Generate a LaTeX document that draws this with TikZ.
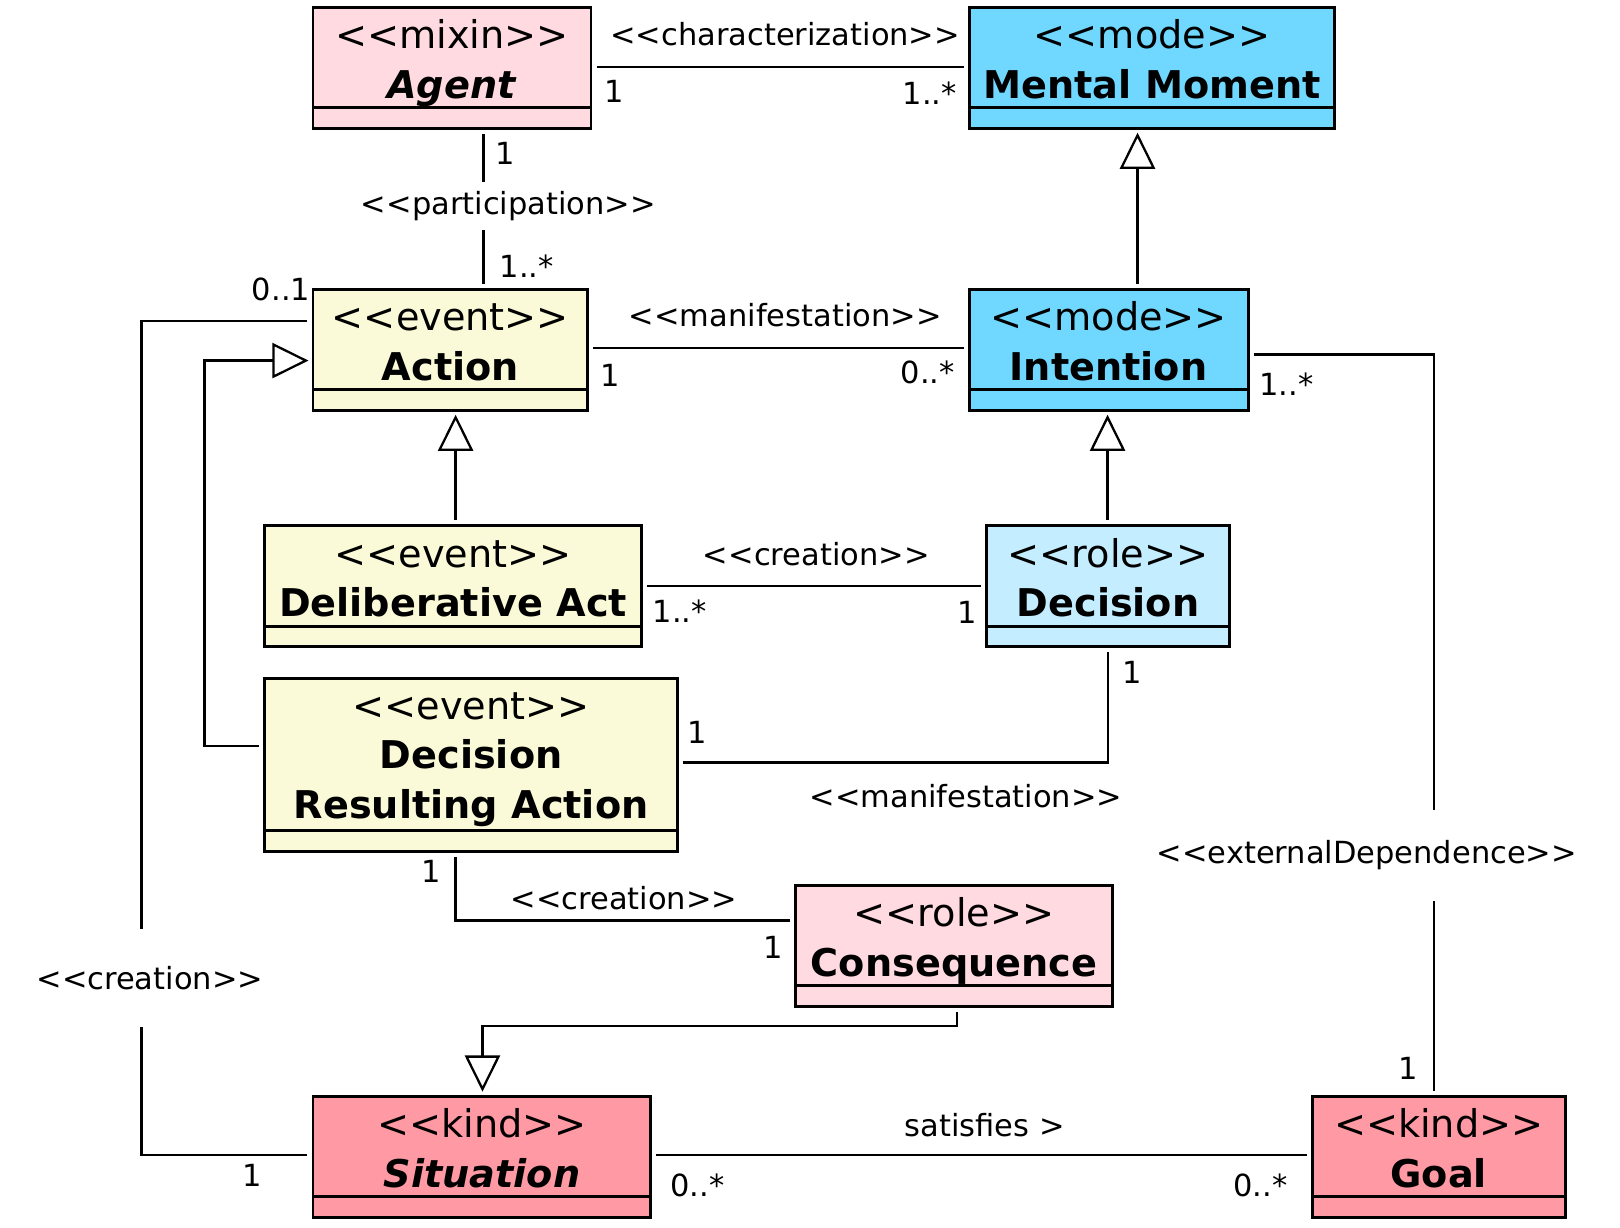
\documentclass[tikz,border=0pt]{standalone}
\usepackage{fontspec}
\setmainfont{DejaVu Sans}
\usepackage{tikz}
\usetikzlibrary{positioning,arrows.meta}

\definecolor{pinklight}{RGB}{255,218,224}
\definecolor{pinkdark}{RGB}{255,154,164}
\definecolor{modecyan}{RGB}{112,216,255}
\definecolor{rolecyan}{RGB}{196,238,255}
\definecolor{eventyellow}{RGB}{250,250,216}

\newcommand{\stereo}[1]{<\kern0pt<#1>\kern0pt>}

\begin{document}
\begin{tikzpicture}[x=1pt,y=-1pt,line width=2.2pt,
	gen/.style={-{Triangle[open,length=35pt,width=34pt]},shorten >=3pt,shorten <=4pt}]
	
	\tikzstyle{umlclass}=[draw,line width=2.8pt,inner sep=0pt,align=center,
	minimum height=97pt,text height=82pt,text depth=3pt,
	font=\fontsize{37}{48}\selectfont]
	\tikzstyle{umlattr}=[draw,line width=2.8pt,inner sep=0pt,minimum height=20pt]
	\tikzstyle{lab}=[font=\fontsize{29.5}{36}\selectfont,inner sep=2pt]
	\tikzstyle{gap}=[lab,fill=white]
	\tikzstyle{assoc}=[shorten <=4pt,shorten >=4pt]
	
	\useasboundingbox (0,0) rectangle (1568,1188);
	
	% classes
	\node[umlclass,fill=pinklight,minimum width=269pt] (agent) at (437.5,55.5) {\stereo{mixin}\\\textbf{\textit{Agent}}};
	\node[umlattr,fill=pinklight,minimum width=269pt,below=-2.8pt of agent] (agentattr) {};
	\node[umlclass,fill=modecyan,minimum width=354pt] (mm) at (1115,55.5) {\stereo{mode}\\\textbf{Mental Moment}};
	\node[umlattr,fill=modecyan,minimum width=354pt,below=-2.8pt of mm] (mmattr) {};
	\node[umlclass,fill=eventyellow,minimum width=266pt] (action) at (436,328.5) {\stereo{event}\\\textbf{Action}};
	\node[umlattr,fill=eventyellow,minimum width=266pt,below=-2.8pt of action] (actionattr) {};
	\node[umlclass,fill=modecyan,minimum width=270pt] (intention) at (1073,328.5) {\stereo{mode}\\\textbf{Intention}};
	\node[umlattr,fill=modecyan,minimum width=270pt,below=-2.8pt of intention] (intentionattr) {};
	\node[umlclass,fill=eventyellow,minimum width=365pt] (delib) at (438.5,557.5) {\stereo{event}\\\textbf{Deliberative Act}};
	\node[umlattr,fill=eventyellow,minimum width=365pt,below=-2.8pt of delib] (delibattr) {};
	\node[umlclass,fill=rolecyan,minimum width=235pt] (decision) at (1072.5,557.5) {\stereo{role}\\\textbf{Decision}};
	\node[umlattr,fill=rolecyan,minimum width=235pt,below=-2.8pt of decision] (decisionattr) {};
	\node[umlclass,fill=eventyellow,minimum width=400pt,minimum height=147pt,text height=126pt] (dra) at (456,730.5) {\stereo{event}\\\textbf{Decision}\\\textbf{Resulting Action}};
	\node[umlattr,fill=eventyellow,minimum width=400pt,below=-2.8pt of dra] (draattr) {};
	\node[umlclass,fill=pinklight,minimum width=307pt] (consequence) at (923.5,905.5) {\stereo{role}\\\textbf{Consequence}};
	\node[umlattr,fill=pinklight,minimum width=307pt,below=-2.8pt of consequence] (consequenceattr) {};
	\node[umlclass,fill=pinkdark,minimum width=327pt] (situation) at (466.5,1109.5) {\stereo{kind}\\\textbf{\textit{Situation}}};
	\node[umlattr,fill=pinkdark,minimum width=327pt,below=-2.8pt of situation] (situationattr) {};
	\node[umlclass,fill=pinkdark,minimum width=245pt] (goal) at (1392.5,1109.5) {\stereo{kind}\\\textbf{Goal}};
	\node[umlattr,fill=pinkdark,minimum width=245pt,below=-2.8pt of goal] (goalattr) {};
	
	% associations
	\draw[assoc] (agent.east |- 0,65) -- (mm.west |- 0,65);
	\draw[assoc] (agentattr.south -| 468,0) -- (action.north -| 468,0);
	\draw[assoc] (action.east |- 0,337) -- (intention.west |- 0,337);
	\draw[assoc] (delib.east |- 0,567) -- (decision.west |- 0,567);
	\draw[assoc] (dra.east |- 0,738) -| (decisionattr.south);
	\draw[assoc] (intention.east |- 0,343) -| (goal.north -| 1388,0);
	\draw[assoc] (draattr.south -| 441,0) |- (consequence.west |- 0,891);
	\draw[assoc] (action.west |- 0,311) -| (137,1118) -- (situation.west |- 0,1118);
	\draw[assoc] (situation.east |- 0,1118) -- (goal.west |- 0,1118);
	
	% generalizations
	\draw[gen] (intention.north -| 1101,0) -- (mmattr.south -| 1101,0);
	\draw[gen] (delib.north -| 441,0) -- (actionattr.south -| 441,0);
	\draw[gen] (decision.north -| 1072,0) -- (intentionattr.south -| 1072,0);
	\draw[gen] (dra.west |- 0,722) -| (198,349) -- (action.west |- 0,349);
	\draw[gen] (consequenceattr.south -| 926,0) -- (926,993) -| (situation.north -| 467,0);
	
	% labels
	\node[lab] (characterization) at (760,33) {\stereo{characterization}};
	\node[lab] (agentchar) at (594,88) {1};
	\node[lab] (mmchar) at (900,90) {1..*};
	\node[gap,inner ysep=9pt] (participation) at (492,199) {\stereo{participation}};
	\node[lab] (agentpart) at (489,148) {1};
	\node[lab] (actionpart) at (510,258) {1..*};
	\node[lab] (manifestation) at (760,305) {\stereo{manifestation}};
	\node[lab] (actionmani) at (591,363) {1};
	\node[lab] (intentionmani) at (898,360) {0..*};
	\node[lab] (creation) at (790,536) {\stereo{creation}};
	\node[lab] (delibcre) at (658,592) {1..*};
	\node[lab] (decisioncre) at (936,593) {1};
	\node[lab] (dramani) at (675,709) {1};
	\node[lab] (decisionmani) at (1096,651) {1};
	\node[lab] (manifestation2) at (935,771) {\stereo{manifestation}};
	\node[gap,inner ysep=30pt] (externaldep) at (1323,828) {\stereo{externalDependence}};
	\node[lab] (intentionext) at (1245,372) {1..*};
	\node[lab] (goalext) at (1363,1034) {1};
	\node[lab] (creation2) at (604,869) {\stereo{creation}};
	\node[lab] (dracre) at (417,843) {1};
	\node[lab] (consequencecre) at (748,917) {1};
	\node[gap,inner ysep=36pt] (creation3) at (145,947) {\stereo{creation}};
	\node[lab] (actioncre) at (272,280) {0..1};
	\node[lab] (situationcre) at (244,1138) {1};
	\node[lab] (satisfies) at (953,1089) {satisfies >};
	\node[lab] (situationsat) at (675,1147) {0..*};
	\node[lab] (goalsat) at (1220,1147) {0..*};
\end{tikzpicture}
\end{document}
